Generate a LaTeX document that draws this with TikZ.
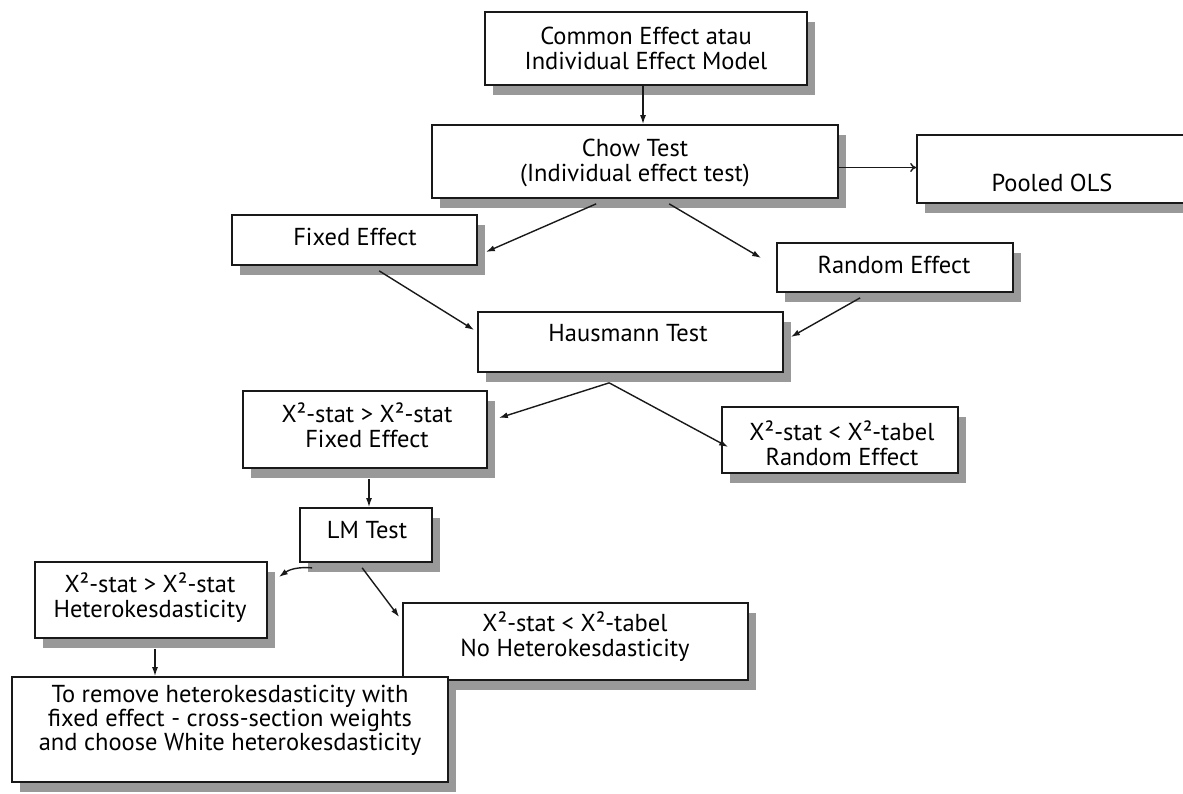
\documentclass[tikz,border=0pt]{standalone}
\usepackage{fontspec}
\setmainfont{PT Sans}
\usetikzlibrary{arrows.meta,shadows,calc}
\begin{document}
\begin{tikzpicture}[x=1pt,y=-1pt,
  box/.style={draw=black!90,line width=1.7pt,fill=white,inner sep=0pt,
    drop shadow={shadow xshift=8pt,shadow yshift=-10pt,fill=black!40,opacity=1}},
  txt/.style={inner sep=0pt,align=center,font=\fontsize{24.5}{25}\selectfont},
  conn/.style={line width=1.4pt,draw=black!90,-{Latex[length=9pt,width=6pt]}},
  openarrow/.style={line width=1.4pt,draw=black!90,-{To[length=6pt,width=9pt]}}]
\useasboundingbox (0,0) rectangle (1183,793);
% boxes
\node[box,minimum width=322pt,minimum height=73pt] (common) at (646,48.5) {};
\node[box,minimum width=406pt,minimum height=73pt] (chow) at (635,161.5) {};
\node[box,minimum width=273pt,minimum height=68pt] (pooled) at (1053.5,169) {};
\node[box,minimum width=245pt,minimum height=50pt] (fixed) at (354.5,240) {};
\node[box,minimum width=236pt,minimum height=49pt] (random) at (895,267.5) {};
\node[box,minimum width=305pt,minimum height=60pt] (haus) at (630.5,342) {};
\node[box,minimum width=244pt,minimum height=77pt] (xfe) at (365,429.5) {};
\node[box,minimum width=236pt,minimum height=66pt] (xre) at (840,440) {};
\node[box,minimum width=132pt,minimum height=54pt] (lm) at (366,535) {};
\node[box,minimum width=232pt,minimum height=76pt] (het) at (151,600) {};
\node[box,minimum width=345pt,minimum height=77pt] (nohet) at (575.5,641.5) {};
\node[box,minimum width=436pt,minimum height=105pt] (remove) at (230,729.5) {};
% texts
\node[txt] (commont) at (646,48) {Common Effect atau\\Individual Effect Model};
\node[txt] (chowt) at (635,163) {Chow Test\\(Individual effect test)};
\node[txt] (pooledt) at (1052,183) {Pooled OLS};
\node[txt] (fixedt) at (355,237) {Fixed Effect};
\node[txt] (randomt) at (894,265) {Random Effect};
\node[txt] (haust) at (628,333) {Hausmann Test};
\node[txt] (xfet) at (367,425) {X²-stat > X²-stat\\Fixed Effect};
\node[txt] (xret) at (842,443) {X²-stat < X²-tabel\\Random Effect};
\node[txt] (lmt) at (367,530) {LM Test};
\node[txt] (hett) at (150,598) {X²-stat > X²-stat\\Heterokesdasticity};
\node[txt] (nohett) at (575,637) {X²-stat < X²-tabel\\No Heterokesdasticity};
\node[txt,font=\fontsize{24.5}{24}\selectfont] (removet) at (230,720) {To remove heterokesdasticity with\\fixed effect - cross-section weights\\and choose White heterokesdasticity};
% helper coordinates
\coordinate (c1) at ($(common.south)+(-3,0)$);
\coordinate (c2) at ($(chow.east)+(0,6)$);
\coordinate (c3) at ($(xfe.south)+(4,10)$);
\coordinate (c4) at ($(het.south)+(4,10)$);
\coordinate (hb) at ($(haus.south west)+(132,10)$);
% connectors
\draw[conn] (c1) -- (c1 |- chow.north);
\draw[openarrow] (c2) -- (c2 -| pooled.west);
\draw[conn] ($(chow.south west)+(165,5)$) -- ($(fixed.east)+(8,12)$);
\draw[conn] ($(chow.south west)+(238,5)$) -- ($(random.west)+(-15,-9.5)$);
\draw[conn] ($(fixed.south west)+(148,5)$) -- ($(haus.west)+(-3,-12)$);
\draw[conn] ($(random.south west)+(84,5)$) -- ($(haus.east)+(7,-5)$);
\draw[conn] (hb) -- ($(xfe.east)+(11,-11.5)$);
\draw[conn] (hb) -- ($(xre.west)+(7,7)$);
\draw[conn] (c3) -- (c3 |- lm.north);
\draw[conn] ($(lm.south west)+(13,5)$) to[bend right=20] ($(het.east)+(11,-23)$);
\draw[conn] ($(lm.south west)+(63,5)$) -- ($(nohet.west)+(-3,-24.5)$);
\draw[conn] (c4) -- (c4 |- remove.north);
\end{tikzpicture}
\end{document}
